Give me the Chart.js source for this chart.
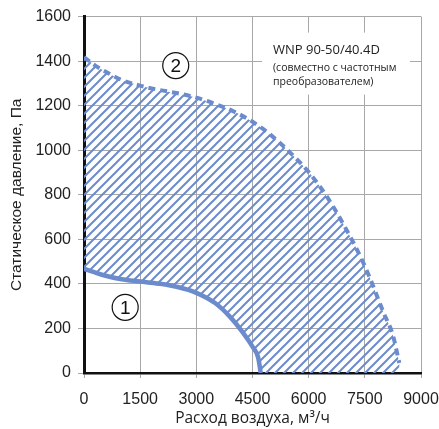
<!DOCTYPE html>
<html>
<head>
<meta charset="utf-8">
<script src="https://cdn.jsdelivr.net/npm/chart.js@4.4.1/dist/chart.umd.min.js"></script>
<style>
  html, body { margin: 0; padding: 0; background: #ffffff; }
  #wrap { position: relative; width: 439px; height: 429px; }
</style>
</head>
<body>
<div id="wrap"><canvas id="c" width="439" height="429"></canvas></div>
<script>
// ---- data ----
const xTicks = [0, 1500, 3000, 4500, 6000, 7500, 9000];
const yTicks = [0, 200, 400, 600, 800, 1000, 1200, 1400, 1600];

// curve 1 (solid, minimum)
const curve1Flow     = [0,   500, 1000, 1500, 2000, 2500, 3000, 3500, 3900, 4250, 4500, 4650, 4720];
const curve1Pressure = [468, 440, 421,  411,  401,  386,  360,  314,  252,  180,  118,  70,   0];

// curve 2 (dashed, maximum with frequency converter)
const curve2Flow     = [0,    300,  650,  1000, 1500, 2000, 2500, 3000, 3500, 4000, 4500, 5000, 5500, 6000, 6500, 7000, 7500, 8000, 8250, 8420];
const curve2Pressure = [1418, 1380, 1346, 1316, 1290, 1271, 1256, 1236, 1208, 1174, 1128, 1067, 990,  902,  788,  646,  480,  271,  169,  45];

const curveLabels = ['1', '2'];
const curveLabelFlow = [1100, 2450];
const curveLabelPressure = [295, 1380];

const titleLines = ['WNP 90-50/40.4D', '(совместно с частотным', 'преобразователем)'];
const xTitle = 'Расход воздуха, м³/ч';
const yTitle = 'Статическое давление, Па';

// ---- build ----
const BLUE = '#6b8bcd';
const toPts = (xs, ys) => xs.map((x, i) => ({x: x, y: ys[i]}));

function makeHatch() {
  const s = 9;
  const c = document.createElement('canvas');
  c.width = s; c.height = s;
  const g = c.getContext('2d');
  g.strokeStyle = BLUE;
  g.lineWidth = 2;
  g.lineCap = 'square';
  g.beginPath();
  g.moveTo(-1, s + 1); g.lineTo(s + 1, -1);
  g.moveTo(-1, 1); g.lineTo(1, -1);
  g.moveTo(s - 1, s + 1); g.lineTo(s + 1, s - 1);
  g.stroke();
  return document.getElementById('c').getContext('2d').createPattern(c, 'repeat');
}
const hatch = makeHatch();

const hatchPlugin = {
  id: 'hatch',
  beforeDatasetsDraw(chart) {
    const ctx = chart.ctx;
    const area = chart.chartArea;
    const ys = chart.scales.y;
    // text box (white background over grid)
    ctx.save();
    ctx.fillStyle = '#ffffff';
    ctx.fillRect(area.left + 178, area.top + 16, 148, 62);
    ctx.fillStyle = '#222222';
    ctx.textBaseline = 'middle';
    ctx.textAlign = 'left';
    ctx.font = '13px "Open Sans"';
    ctx.fillText(titleLines[0], area.left + 189, area.top + 34);
    ctx.font = '10.5px "Open Sans"';
    ctx.fillText(titleLines[1], area.left + 189, area.top + 51);
    ctx.fillText(titleLines[2], area.left + 189, area.top + 65);
    ctx.restore();

    const low = chart.getDatasetMeta(0).dataset;
    const up = chart.getDatasetMeta(1).dataset;
    low.updateControlPoints(area, 'x');
    up.updateControlPoints(area, 'x');
    const upPts = chart.getDatasetMeta(1).data;
    const last = upPts[upPts.length - 1];
    ctx.save();
    ctx.beginPath();
    ctx.rect(area.left, area.top, area.right - area.left, area.bottom - area.top);
    ctx.clip();
    ctx.beginPath();
    up.pathSegment(ctx, up.segments[0]);
    ctx.lineTo(last.x, ys.getPixelForValue(0));
    low.pathSegment(ctx, low.segments[0], {move: false, reverse: true});
    ctx.closePath();
    ctx.fillStyle = hatch;
    ctx.fill();
    ctx.restore();
  },
  afterDatasetsDraw(chart) {
    const ctx = chart.ctx;
    const xs = chart.scales.x, ys = chart.scales.y;
    ctx.save();
    for (let i = 0; i < curveLabels.length; i++) {
      const px = xs.getPixelForValue(curveLabelFlow[i]);
      const py = ys.getPixelForValue(curveLabelPressure[i]);
      ctx.beginPath();
      ctx.arc(px, py, 13, 0, Math.PI * 2);
      ctx.fillStyle = '#ffffff';
      ctx.fill();
      ctx.lineWidth = 1.2;
      ctx.strokeStyle = '#111111';
      ctx.stroke();
      ctx.fillStyle = '#111111';
      ctx.font = '19px "Liberation Sans"';
      ctx.textAlign = 'center';
      ctx.textBaseline = 'middle';
      ctx.fillText(curveLabels[i], px, py + 1);
    }
    ctx.restore();
  }
};

new Chart(document.getElementById('c'), {
  type: 'line',
  data: {
    datasets: [
      { data: toPts(curve1Flow, curve1Pressure), borderColor: BLUE, borderWidth: 4.5,
        pointRadius: 0, cubicInterpolationMode: 'monotone', fill: false, borderCapStyle: 'butt' },
      { data: toPts(curve2Flow, curve2Pressure), borderColor: BLUE, borderWidth: 4,
        borderDash: [7, 5], pointRadius: 0, cubicInterpolationMode: 'monotone', fill: false, borderCapStyle: 'butt' }
    ]
  },
  options: {
    responsive: false,
    animation: false,
    events: [],
    layout: { padding: { top: 16, right: 0, left: 0, bottom: 0 } },
    plugins: { legend: { display: false }, tooltip: { enabled: false } },
    scales: {
      x: {
        type: 'linear', min: 0, max: 9000,
        afterFit(s) { s.height = 56; s.paddingRight = 18; s.paddingLeft = 0; },
        afterBuildTicks(s) { s.ticks = xTicks.map(v => ({value: v})); },
        ticks: { color: '#222222', font: { family: '"Liberation Sans", Arial', size: 16 }, padding: 12, maxRotation: 0,
                 callback: v => String(v) },
        grid: { color: '#a8a8a8', lineWidth: 1, tickLength: 5 },
        border: { color: '#111111', width: 2.5 },
        title: { display: true, text: xTitle, color: '#222222', font: { family: '"Open Sans"', size: 15.5 }, padding: { top: 0, bottom: 1 } }
      },
      y: {
        type: 'linear', min: 0, max: 1600,
        afterFit(s) { s.width = 84; },
        afterBuildTicks(s) { s.ticks = yTicks.map(v => ({value: v})); },
        ticks: { color: '#222222', font: { family: '"Liberation Sans", Arial', size: 16 }, padding: 7,
                 callback: v => String(v) },
        grid: { color: '#a8a8a8', lineWidth: 1, tickLength: 6 },
        border: { color: '#111111', width: 3 },
        title: { display: true, text: yTitle, color: '#222222', font: { family: '"Liberation Sans", Arial', size: 15.5 }, padding: { top: 7, bottom: 0 } }
      }
    }
  },
  plugins: [hatchPlugin]
});
</script>
</body>
</html>
